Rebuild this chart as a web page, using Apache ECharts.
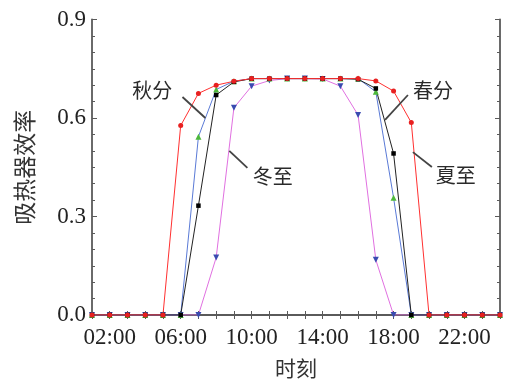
<!DOCTYPE html>
<html>
<head>
<meta charset="utf-8">
<script src="https://cdn.jsdelivr.net/npm/echarts@6/dist/echarts.min.js"></script>
<style>html,body{margin:0;padding:0;background:#fff}#c{width:527px;height:389px}</style>
</head>
<body>
<div id="c"></div>
<script>
// hours of day
var hours = [1,2,3,4,5,6,7,8,9,10,11,12,13,14,15,16,17,18,19,20,21,22,23,24];
// 夏至 (summer solstice)
var summer = [0,0,0,0,0,0.577,0.675,0.700,0.712,0.720,0.720,0.720,0.720,0.720,0.720,0.720,0.713,0.682,0.586,0,0,0,0,0];
// 春分 (spring equinox)
var spring = [0,0,0,0,0,0,0.333,0.670,0.710,0.720,0.720,0.720,0.720,0.720,0.720,0.718,0.690,0.492,0,0,0,0,0,0];
// 秋分 (autumn equinox)
var autumn = [0,0,0,0,0,0,0.543,0.687,0.712,0.720,0.720,0.720,0.720,0.720,0.720,0.720,0.680,0.357,0,0,0,0,0,0];
// 冬至 (winter solstice)
var winter = [0,0,0,0,0,0,0,0.175,0.631,0.697,0.714,0.720,0.720,0.719,0.697,0.609,0.168,0,0,0,0,0,0,0];
// x tick labels
var xTickHours = [2,6,10,14,18,22];
var xTickLabels = ['02:00','06:00','10:00','14:00','18:00','22:00'];
// y tick labels
var yTicks = [0.0,0.3,0.6,0.9];
var yTickLabels = ['0.0','0.3','0.6','0.9'];
// annotations (data coords)
var annoNames = ['秋分','冬至','春分','夏至'];
var annoTextPos = [[4.40,0.685],[11.19,0.421],[20.22,0.685],[21.51,0.424]];
var annoLineFrom = [[6.10,0.664],[8.74,0.500],[18.81,0.670],[19.09,0.496]];
var annoLineTo = [[7.39,0.600],[9.76,0.448],[17.52,0.594],[20.16,0.451]];

function pairs(arr){ return hours.map(function(h,i){ return [h, arr[i]]; }); }

var axisColor = '#5a5a5a';
var serif = "'Liberation Serif','Times New Roman',serif";
var cjk = "'Noto Sans CJK SC','Noto Sans CJK JP',sans-serif";

var chart = echarts.init(document.getElementById('c'), null, {renderer:'canvas'});
function mkSeries(name, data, lineColor, symbol, symColor, size, rot){
  return {
    name: name, type: 'line', data: pairs(data),
    symbol: symbol, symbolSize: size, symbolRotate: rot || 0,
    showAllSymbol: true,
    lineStyle: {color: lineColor, width: 1},
    itemStyle: {color: symColor, borderWidth: 0},
    emphasis: {disabled: true},
    clip: true, z: 3
  };
}
var option = {
  animation: false,
  grid: {left: 92, top: 19.5, right: 27, bottom: 74, containLabel: false},
  xAxis: [{
    type: 'value', min: 1, max: 24, interval: 1, position: 'bottom',
    name: '时刻', nameLocation: 'middle', nameGap: 43,
    nameTextStyle: {fontFamily: cjk, fontSize: 21, color: '#333'},
    axisLine: {show: true, lineStyle: {color: axisColor, width: 1.8}},
    axisTick: {show: true, inside: true, length: 4, lineStyle: {color: axisColor}},
    axisLabel: {
      fontFamily: serif, fontSize: 23, color: '#222', margin: 11,
      formatter: function(v){ var k = xTickHours.indexOf(Math.round(v)); return k >= 0 ? xTickLabels[k] : ''; },
      showMinLabel: false, showMaxLabel: false
    },
    splitLine: {show: false}
  },{
    type: 'value', min: 1, max: 24, interval: 1, position: 'top',
    axisLine: {show: true, lineStyle: {color: axisColor, width: 1.8}},
    axisTick: {show: true, inside: true, length: 4, lineStyle: {color: axisColor}},
    axisLabel: {show: false}, splitLine: {show: false}
  }],
  yAxis: [{
    type: 'value', min: 0, max: 0.9, interval: 0.3, position: 'left',
    name: '吸热器效率', nameLocation: 'middle', nameGap: 56, nameRotate: 90,
    nameTextStyle: {fontFamily: cjk, fontSize: 23, color: '#333'},
    axisLine: {show: true, lineStyle: {color: axisColor, width: 1.8}},
    axisTick: {show: true, inside: true, length: 5, lineStyle: {color: axisColor}},
    minorTick: {show: true, splitNumber: 6, length: 3, lineStyle: {color: axisColor}},
    axisLabel: {
      fontFamily: serif, fontSize: 23, color: '#222', margin: 6,
      formatter: function(v){ for (var i=0;i<yTicks.length;i++){ if (Math.abs(yTicks[i]-v) < 1e-6) return yTickLabels[i]; } return ''; }
    },
    splitLine: {show: false}
  },{
    type: 'value', min: 0, max: 0.9, interval: 0.3, position: 'right',
    axisLine: {show: true, lineStyle: {color: axisColor, width: 1.8}},
    axisTick: {show: true, inside: true, length: 5, lineStyle: {color: axisColor}},
    minorTick: {show: true, splitNumber: 6, length: 3, lineStyle: {color: axisColor}},
    axisLabel: {show: false}, splitLine: {show: false}
  }],
  series: [
    mkSeries('冬至', winter, '#e070e0', 'triangle', '#3a4bb0', 6, 180),
    mkSeries('秋分', autumn, '#5a7ad6', 'triangle', '#4cb83a', 6, 0),
    mkSeries('春分', spring, '#222222', 'rect', '#000000', 4.5, 0),
    mkSeries('夏至', summer, '#ff3030', 'circle', '#e82020', 5, 0)
  ]
};
chart.setOption(option);

var g = [];
for (var i = 0; i < annoNames.length; i++) {
  var tp = chart.convertToPixel({xAxisIndex: 0, yAxisIndex: 0}, annoTextPos[i]);
  var a = chart.convertToPixel({xAxisIndex: 0, yAxisIndex: 0}, annoLineFrom[i]);
  var b = chart.convertToPixel({xAxisIndex: 0, yAxisIndex: 0}, annoLineTo[i]);
  g.push({type: 'text', x: tp[0], y: tp[1], z: 10,
    style: {text: annoNames[i], fill: '#2a2a2a', font: '20px ' + cjk, align: 'center', verticalAlign: 'middle'}});
  g.push({type: 'line', z: 10, shape: {x1: a[0], y1: a[1], x2: b[0], y2: b[1]},
    style: {stroke: '#444', lineWidth: 1.8}});
}
chart.setOption({graphic: g});
</script>
</body>
</html>
